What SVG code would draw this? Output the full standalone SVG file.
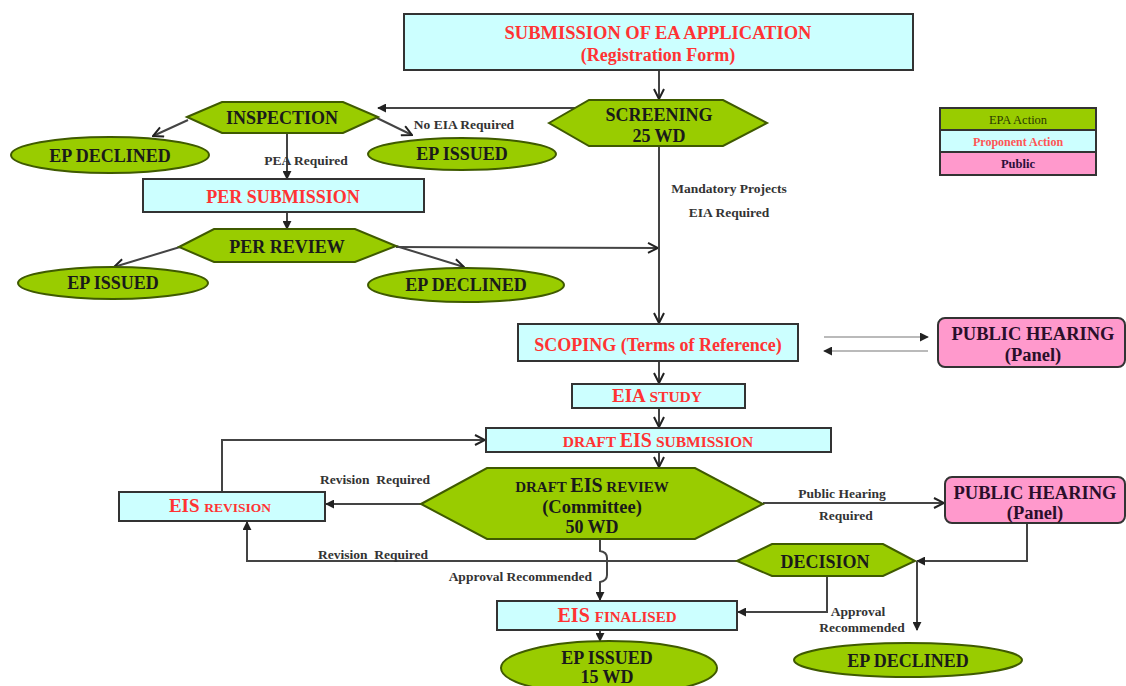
<svg xmlns="http://www.w3.org/2000/svg" width="1126" height="686" viewBox="0 0 1126 686">
<style>
text{font-family:"Liberation Serif","Times New Roman",serif;font-weight:bold;text-anchor:middle}
.g{fill:#99cc00;stroke:#3f5a00;stroke-width:2}
.c{fill:#ccffff;stroke:#333;stroke-width:2}
.p{fill:#ff99cc;stroke:#333;stroke-width:2}
.t{font-size:18px;fill:#1a1a1a}
.r{font-size:18px;fill:#ff3333}
.ph{font-size:18.5px;fill:#2a0f2a}
.l{font-size:13.5px;fill:#333}
.ln{fill:none;stroke:#444;stroke-width:2}
.th{fill:none;stroke:#777;stroke-width:1.2}
</style>
<defs>
<marker id="open" viewBox="0 0 12 12" refX="11" refY="6" markerWidth="12" markerHeight="12" markerUnits="userSpaceOnUse" orient="auto">
<path d="M1,1 L11,6 L1,11" fill="none" stroke="#222" stroke-width="2"/>
</marker>
<marker id="fill" viewBox="0 0 10 10" refX="9" refY="5" markerWidth="9" markerHeight="9" markerUnits="userSpaceOnUse" orient="auto">
<path d="M0,0 L10,5 L0,10 Z" fill="#222"/>
</marker>
</defs>
<rect width="1126" height="686" fill="#ffffff"/>

<g id="connectors">
<path class="ln" d="M659,70 V99" marker-end="url(#open)"/>
<path class="ln" d="M575,108 H378" marker-end="url(#fill)"/>
<path class="ln" d="M188,120 L153,136" marker-end="url(#open)"/>
<path class="ln" d="M377,118 L412,135" marker-end="url(#open)"/>
<path class="ln" d="M287,133 V179" marker-end="url(#fill)"/>
<path class="ln" d="M287,212 V229" marker-end="url(#fill)"/>
<path class="ln" d="M180,247 L114,267" marker-end="url(#open)"/>
<path class="ln" d="M396,246 L464,267" marker-end="url(#open)"/>
<path class="ln" d="M396,247 L658,248" marker-end="url(#open)"/>
<path class="ln" d="M659,146 V323" marker-end="url(#open)"/>
<path class="th" d="M824,337 H928" marker-end="url(#fill)"/>
<path class="th" d="M928,351 H824" marker-end="url(#fill)"/>
<path class="ln" d="M659,361 V383" marker-end="url(#open)"/>
<path class="ln" d="M659,408 V427" marker-end="url(#open)"/>
<path class="ln" d="M659,452 V467" marker-end="url(#open)"/>
<path class="ln" d="M421,504 H326" marker-end="url(#fill)"/>
<path class="ln" d="M222,492 V440 H485" marker-end="url(#open)"/>
<path class="ln" d="M763,503 H944" marker-end="url(#open)"/>
<path class="ln" d="M1027,523 V561 H917" marker-end="url(#fill)"/>
<path class="ln" d="M737,561 H247 V522" marker-end="url(#fill)"/>
<path class="ln" d="M600,539 V551 Q607,552 607,558 V575 Q607,581 600,582 V600" marker-end="url(#fill)"/>
<path class="ln" d="M827,576 V612 H738" marker-end="url(#fill)"/>
<path class="ln" d="M917,561 V630" marker-end="url(#fill)"/>
<path class="ln" d="M600,630 V641" marker-end="url(#fill)"/>
</g>

<g id="submission">
<rect class="c" x="404" y="14" width="509" height="56"/>
<text class="r" x="658" y="39" style="font-size:18.5px">SUBMISSION OF EA APPLICATION</text>
<text class="r" x="658" y="61">(Registration Form)</text>
</g>

<g id="screening">
<polygon class="g" points="549,123 589,100 723,100 767,123 723,146 589,146"/>
<text class="t" x="659" y="121">SCREENING</text>
<text class="t" x="659" y="142">25 WD</text>
</g>

<g id="inspection">
<polygon class="g" points="187,117 222,102 343,102 378,117 343,133 222,133"/>
<text class="t" x="282" y="124">INSPECTION</text>
</g>

<g id="ep-declined-1">
<ellipse class="g" cx="110" cy="155" rx="99" ry="18"/>
<text class="t" x="110" y="162">EP DECLINED</text>
</g>

<g id="ep-issued-1">
<ellipse class="g" cx="462" cy="154" rx="94" ry="16"/>
<text class="t" x="462" y="160">EP ISSUED</text>
</g>

<g id="per-submission">
<rect class="c" x="143" y="179" width="281" height="33"/>
<text class="r" x="283" y="203">PER SUBMISSION</text>
</g>

<g id="per-review">
<polygon class="g" points="179,247 214,229 355,229 396,246 355,262 214,262"/>
<text class="t" x="287" y="253">PER REVIEW</text>
</g>

<g id="ep-issued-2">
<ellipse class="g" cx="113" cy="283" rx="95" ry="16"/>
<text class="t" x="113" y="289">EP ISSUED</text>
</g>

<g id="ep-declined-2">
<ellipse class="g" cx="466" cy="285" rx="98" ry="17"/>
<text class="t" x="466" y="291">EP DECLINED</text>
</g>

<g id="legend">
<rect class="g" x="940" y="108" width="156" height="22" style="stroke:#333"/>
<rect class="c" x="940" y="130" width="156" height="22"/>
<rect class="p" x="940" y="152" width="156" height="23"/>
<text x="1018" y="124" style="font-size:12.5px;fill:#2b3a00;font-weight:normal">EPA Action</text>
<text x="1018" y="146" style="font-size:12px;fill:#ff5555">Proponent Action</text>
<text x="1018" y="168" style="font-size:12.5px;fill:#2a0f3a">Public</text>
</g>

<g id="scoping">
<rect class="c" x="518" y="324" width="280" height="37"/>
<text class="r" x="658" y="351">SCOPING (Terms of Reference)</text>
</g>

<g id="public-hearing-1">
<rect class="p" x="938" y="318" width="187" height="49" rx="7"/>
<text class="ph" x="1033" y="340">PUBLIC HEARING</text>
<text class="ph" x="1033" y="361">(Panel)</text>
</g>

<g id="eia-study">
<rect class="c" x="572" y="384" width="173" height="24"/>
<text class="r" x="657" y="402"><tspan style="font-size:19px">EIA </tspan><tspan style="font-size:15.5px">STUDY</tspan></text>
</g>

<g id="draft-eis-submission">
<rect class="c" x="486" y="428" width="345" height="24"/>
<text class="r" x="658" y="447"><tspan style="font-size:15.5px">DRAFT </tspan><tspan style="font-size:20px">EIS</tspan><tspan style="font-size:15.5px"> SUBMISSION</tspan></text>
</g>

<g id="draft-eis-review">
<polygon class="g" points="421,504 487,468 695,468 763,504 695,539 487,539"/>
<text class="t" x="592" y="492"><tspan style="font-size:15px">DRAFT </tspan><tspan style="font-size:20px">EIS</tspan><tspan style="font-size:15px"> REVIEW</tspan></text>
<text class="t" x="592" y="513" style="font-size:18.5px">(Committee)</text>
<text class="t" x="592" y="533">50 WD</text>
</g>

<g id="eis-revision">
<rect class="c" x="119" y="492" width="206" height="29"/>
<text class="r" x="220" y="512"><tspan style="font-size:19px">EIS </tspan><tspan style="font-size:13.5px">REVISION</tspan></text>
</g>

<g id="public-hearing-2">
<rect class="p" x="945" y="477" width="180" height="46" rx="7"/>
<text class="ph" x="1035" y="499">PUBLIC HEARING</text>
<text class="ph" x="1035" y="519">(Panel)</text>
</g>

<g id="decision">
<polygon class="g" points="737,561 772,544 883,544 915,561 883,576 772,576"/>
<text class="t" x="825" y="568">DECISION</text>
</g>

<g id="eis-finalised">
<rect class="c" x="497" y="601" width="240" height="29"/>
<text class="r" x="617" y="622"><tspan style="font-size:20px">EIS </tspan><tspan style="font-size:15px">FINALISED</tspan></text>
</g>

<g id="ep-issued-3">
<ellipse class="g" cx="609" cy="668" rx="108" ry="27"/>
<text class="t" x="607" y="664">EP ISSUED</text>
<text class="t" x="607" y="683">15 WD</text>
</g>

<g id="ep-declined-3">
<ellipse class="g" cx="908" cy="660" rx="114" ry="17"/>
<text class="t" x="908" y="667">EP DECLINED</text>
</g>

<g id="labels">
<text class="l" x="464" y="129">No EIA Required</text>
<text class="l" x="306" y="164.5">PEA Required</text>
<text class="l" x="729" y="192.5">Mandatory Projects</text>
<text class="l" x="729" y="216.5">EIA Required</text>
<text class="l" x="375" y="483.5" xml:space="preserve">Revision  Required</text>
<text class="l" x="373" y="558.5" xml:space="preserve">Revision  Required</text>
<text class="l" x="842" y="497.5">Public Hearing</text>
<text class="l" x="846" y="519.5">Required</text>
<text class="l" x="592" y="580.5" style="text-anchor:end">Approval Recommended</text>
<text class="l" x="858" y="615.5">Approval</text>
<text class="l" x="862" y="631.5">Recommended</text>
</g>
</svg>
